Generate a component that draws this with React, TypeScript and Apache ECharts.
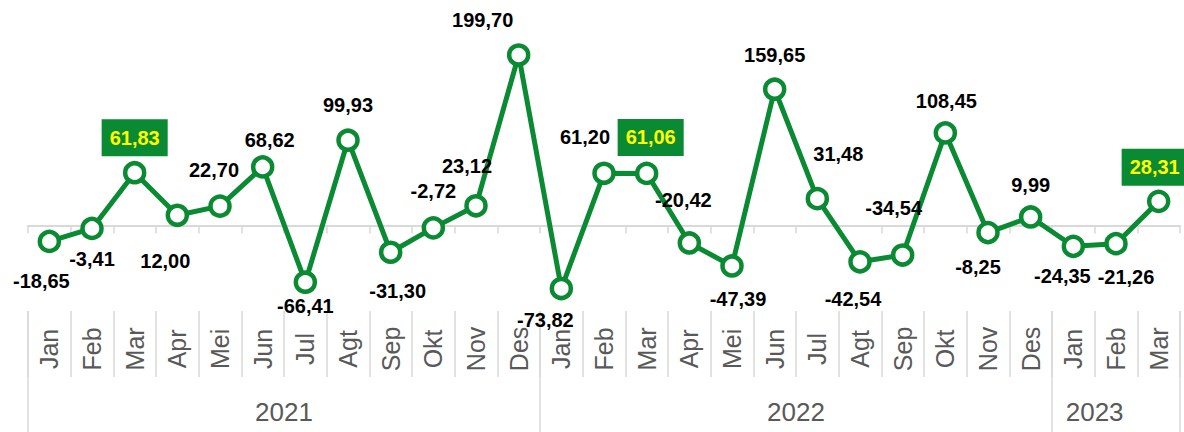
import React, { useEffect, useRef } from "react";
import * as echarts from "echarts";

const months = [
  "Jan", "Feb", "Mar", "Apr", "Mei", "Jun", "Jul", "Agt", "Sep", "Okt", "Nov", "Des",
  "Jan", "Feb", "Mar", "Apr", "Mei", "Jun", "Jul", "Agt", "Sep", "Okt", "Nov", "Des",
  "Jan", "Feb", "Mar",
];
const values = [
  -18.65, -3.41, 61.83, 12.0, 22.7, 68.62, -66.41, 99.93, -31.3, -2.72, 23.12, 199.7,
  -73.82, 61.2, 61.06, -20.42, -47.39, 159.65, 31.48, -42.54, -34.54, 108.45, -8.25, 9.99,
  -24.35, -21.26, 28.31,
];
const years = ["2021", "2022", "2023"];
const yearBoundaries = [0, 12, 24, 27];
const yearLabelAt = [6, 18, 25];
const highlighted = [2, 14, 26];
// label centre offsets relative to the point (px)
const labelOffsets: [number, number][] = [
  [-8, 40], [0, 31], [0, -35], [-12, 46], [-6, -36], [7, -27], [0, 24], [0, -35], [7, 39],
  [0, -37], [-9, -40], [-36, -35], [-16, 31], [-19, -36], [4, -36], [-6, -43], [6, 33],
  [0, -34], [21, -45], [-7, 37], [-9, -47], [1, -32], [-10, 34], [0, -32], [-11, 30],
  [10, 33], [-4, -34],
];

const GREEN = "#0A8A32";
const GRID_LINE = "#D9D9D9";
const FONT = "'Liberation Sans', Arial, sans-serif";

export default function App() {
  const ref = useRef<HTMLDivElement>(null);
  useEffect(() => {
    if (!ref.current) return;
    const chart = echarts.init(ref.current, undefined, { renderer: "svg" });
    const fmt = (v: number) => v.toFixed(2).replace(".", ",");
    const data = values.map((v, i) => {
      const hl = highlighted.includes(i);
      return {
        value: v,
        label: {
          show: true,
          position: "inside",
          offset: labelOffsets[i],
          align: "center",
          verticalAlign: "middle",
          formatter: () => fmt(v),
          fontFamily: FONT,
          fontWeight: "bold",
          fontSize: 20,
          color: hl ? "#FFFF00" : "#000000",
          backgroundColor: hl ? GREEN : "transparent",
          padding: hl ? [9, 8, 8, 8] : 0,
        },
      };
    });
    chart.setOption({
      animation: false,
      grid: { left: 28, right: 4, top: 37.7, bottom: 432 - 310.9, containLabel: false },
      yAxis: {
        type: "value",
        min: -100,
        max: 220,
        show: false,
      },
      xAxis: [
        {
          type: "category",
          data: months,
          position: "bottom",
          boundaryGap: true,
          axisLine: { show: false, onZero: false },
          axisTick: { show: true, length: 66, interval: 0, lineStyle: { color: GRID_LINE, width: 1.5 } },
          axisLabel: {
            interval: 0,
            rotate: 90,
            align: "center",
            verticalAlign: "middle",
            margin: 38,
            color: "#595959",
            fontFamily: FONT,
            fontSize: 25,
          },
          splitLine: { show: false },
        },
        {
          type: "value",
          min: 0,
          max: 27,
          position: "bottom",
          axisLine: { show: false, onZero: false },
          axisTick: {
            show: true,
            length: 122,
            customValues: yearBoundaries,
            lineStyle: { color: GRID_LINE, width: 1.5 },
          },
          axisLabel: {
            show: true,
            customValues: yearLabelAt,
            formatter: (v: number) => years[yearLabelAt.indexOf(v)] ?? "",
            margin: 101,
            verticalAlign: "middle",
            color: "#595959",
            fontFamily: FONT,
            fontSize: 26,
          },
          splitLine: { show: false },
        },
        {
          type: "category",
          data: months,
          position: "bottom",
          boundaryGap: true,
          axisLine: { show: true, onZero: true, lineStyle: { color: GRID_LINE, width: 2 } },
          axisTick: { show: true, length: 8, interval: 0, lineStyle: { color: GRID_LINE, width: 1.5 } },
          axisLabel: { show: false },
          splitLine: { show: false },
        },
      ],
      series: [
        {
          type: "line",
          xAxisIndex: 0,
          data,
          symbol: "circle",
          symbolSize: 19,
          lineStyle: { color: GREEN, width: 5 },
          itemStyle: { color: "#FFFFFF", borderColor: GREEN, borderWidth: 4.5 },
          z: 5,
        },
      ],
    });
    return () => chart.dispose();
  }, []);
  return (
    <div
      ref={ref}
      style={{ position: "absolute", left: 0, top: 0, width: 1184, height: 432, background: "#fff" }}
    />
  );
}
